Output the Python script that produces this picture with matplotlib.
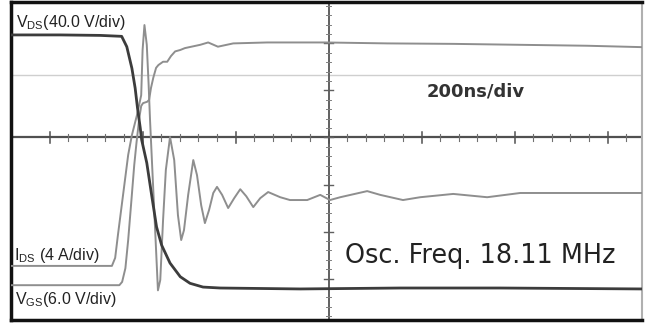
import numpy as np
import matplotlib.pyplot as plt

# scope screen: time in ns (0 = centre), amplitude in screen divisions
NS_PER_DIV = 200

# V_DS trace (dark)
vds_t = [-683, -577, -491, -445, -434, -423, -416, -411, -405, -402, -391, -380,
         -370, -359, -341, -319, -298, -270, -233, -61, 154, 369, 676]
vds_d = [2.18, 2.18, 2.17, 2.15, 1.93, 1.47, 1.05, 0.63, 0.20, -0.05, -0.54, -1.26,
         -1.90, -2.29, -2.67, -2.96, -3.10, -3.18, -3.20, -3.22, -3.20, -3.20, -3.22]

# I_DS trace (light), ringing after turn-on
ids_t = [-683, -466, -459, -453, -442, -431, -423, -412, -403, -400, -396, -391,
         -387, -384, -380, -373, -367, -362, -356, -350, -341, -332, -324, -317,
         -311, -302, -291, -283, -274, -266, -257, -248, -240, -229, -216, -203,
         -190, -177, -162, -147, -130, -104, -83, -46, -18, 3, 25, 83, 111, 160,
         197, 268, 341, 412, 483, 556, 627, 676]
ids_d = [-2.73, -2.73, -2.56, -2.07, -1.22, -0.37, 0.05, 0.48, 0.90, 1.86, 2.39, 1.97,
         1.12, 0.37, -0.48, -1.97, -3.25, -3.03, -1.76, -0.69, 0.01, -0.48, -1.65, -2.18,
         -1.97, -1.22, -0.48, -0.80, -1.44, -1.82, -1.54, -1.18, -1.05, -1.22, -1.50, -1.29,
         -1.10, -1.25, -1.48, -1.29, -1.16, -1.27, -1.33, -1.33, -1.22, -1.33, -1.27, -1.14, -1.22, -1.33,
         -1.27, -1.20, -1.27, -1.18, -1.18, -1.18, -1.18, -1.18]

# V_GS trace (light), with Miller plateau
vgs_t = [-683, -450, -444, -437, -431, -424, -418, -413, -407, -403, -399, -390,
         -386, -382, -377, -371, -366, -356, -347, -339, -330, -319, -309, -276,
         -259, -238, -205, -132, -8, 126, 268, 412, 556, 676]
vgs_d = [-3.14, -3.14, -3.07, -2.78, -2.18, -1.33, -0.59, -0.10, 0.42, 0.67, 0.73, 0.76,
         0.80, 1.05, 1.27, 1.48, 1.54, 1.61, 1.61, 1.73, 1.83, 1.86, 1.90, 1.97,
         2.02, 1.93, 2.00, 2.02, 2.02, 2.00, 1.99, 1.97, 1.95, 1.92]

ref_line_d = 1.33

plt.rcParams['mathtext.fontset'] = 'custom'
plt.rcParams['mathtext.rm'] = 'Liberation Sans'

fig = plt.figure(figsize=(6.52, 3.23), dpi=100)
ax = fig.add_axes([11 / 652, 3 / 323, 631 / 652, 318 / 323])
ax.set_xlim(-683, 674)
ax.set_ylim(-3.88, 2.88)

# graticule: centre cross with ticks, faint reference line
ax.axhline(ref_line_d, color='#cfcfcf', lw=1.0, zorder=1)
ax.axhline(0, color='#505050', lw=1.6, zorder=2)
ax.axvline(0, color='#606060', lw=1.4, zorder=2)
for t in np.arange(-600, 674, 40):
    major = t % NS_PER_DIV == 0
    h = 0.11 if major else 0.065
    ax.plot([t, t], [-h, h], color='#505050' if major else '#707070',
            lw=1.1 if major else 0.8, zorder=2)
for d in np.arange(-3.8, 2.85, 0.2):
    d = round(d, 1)
    major = abs(d - round(d)) < 1e-6
    w = 9 if major else 5
    ax.plot([-w, w], [d, d], color='#606060' if major else '#808080',
            lw=1.0 if major else 0.7, zorder=2)

ax.plot(vgs_t, vgs_d, color='#8e8e8e', lw=1.4, zorder=3)
ax.plot(ids_t, ids_d, color='#8e8e8e', lw=1.4, zorder=3)
ax.plot(vds_t, vds_d, color='#3c3c3c', lw=2.0, zorder=4)

ax.set_xticks([])
ax.set_yticks([])
for side in ['left', 'top', 'bottom']:
    ax.spines[side].set_color('#111111')
    ax.spines[side].set_linewidth(2.5)
ax.spines['right'].set_color('#b0b0b0')
ax.spines['right'].set_linewidth(1.5)

lab = dict(transform=ax.transAxes, fontsize=11.5, family='Liberation Sans',
           color='#222222', va='center', ha='left')
ax.text(0.008, 0.937, r'V$_{\rm DS}$(40.0 V/div)', **lab)
ax.text(0.004, 0.204, r'I$_{\rm DS}$ (4 A/div)', **lab)
ax.text(0.006, 0.066, r'V$_{\rm GS}$(6.0 V/div)', **lab)
ax.text(0.659, 0.720, '200ns/div', transform=ax.transAxes, fontsize=13,
        fontweight='bold', color='#333333', va='center', ha='left')
ax.text(0.529, 0.201, 'Osc. Freq. 18.11 MHz', transform=ax.transAxes, fontsize=18.4,
        color='#222222', va='center', ha='left')

fig.savefig('out.png', dpi=100, facecolor='white')
